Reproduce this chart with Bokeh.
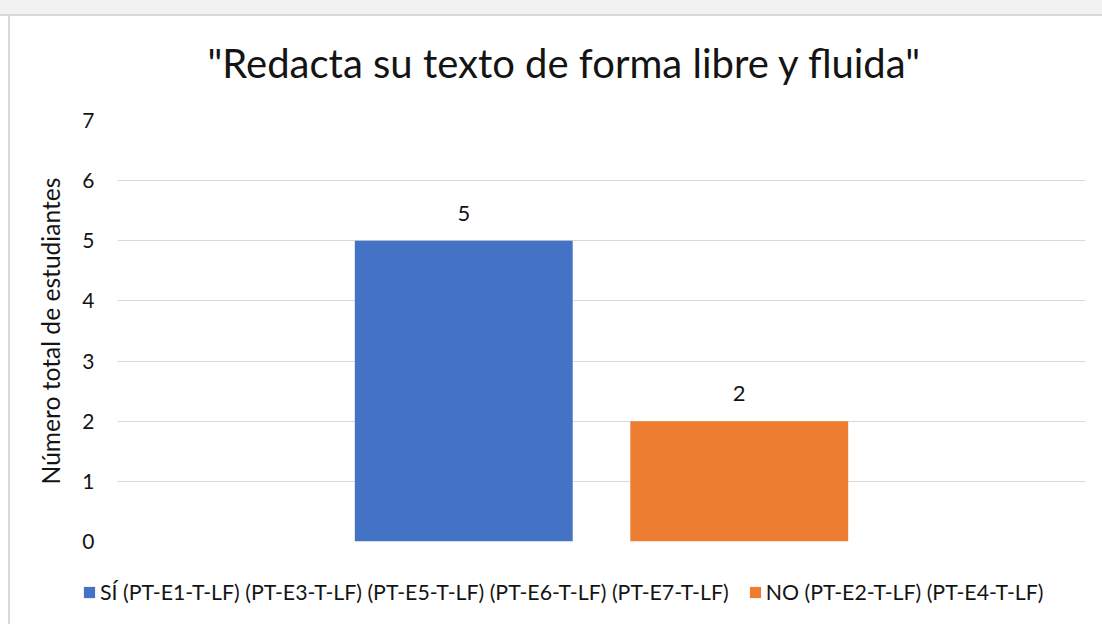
from bokeh.plotting import figure
from bokeh.models import ColumnDataSource, FactorRange, Legend, LegendItem, LabelSet, Range1d, FixedTicker
from bokeh.layouts import column
from bokeh.core.properties import value
from bokeh.embed import file_html
from bokeh.resources import INLINE

title_text = '"Redacta su texto de forma libre y fluida"'
series = ["SÍ (PT-E1-T-LF) (PT-E3-T-LF) (PT-E5-T-LF) (PT-E6-T-LF) (PT-E7-T-LF)",
          "NO (PT-E2-T-LF) (PT-E4-T-LF)"]
values = [5, 2]
colors = ["#4472C4", "#ED7D31"]
y_ticks = [0, 1, 2, 3, 4, 5, 6, 7]
y_label = "Número total de estudiantes"

FONT = "Lato"
TXT = "#141414"
W = 1102

src = ColumnDataSource(dict(x=series, top=values, color=colors,
                            label=[str(v) for v in values]))

top_bg = ("linear-gradient(to right, transparent 8px, #d9d9d9 8px, #d9d9d9 10px, transparent 10px) 0 16px / 100% 100% no-repeat, "
          "linear-gradient(to bottom, #f2f2f2 0px, #f2f2f2 14px, #d9d9d9 14px, #d9d9d9 16px, #ffffff 16px)")
side_bg = "linear-gradient(to right, #ffffff 8px, #d9d9d9 8px, #d9d9d9 10px, #ffffff 10px)"

# ---- main chart ----
p = figure(width=W, height=560,
           x_range=FactorRange(factors=series, range_padding=0.757,
                               range_padding_units="absolute"),
           y_range=Range1d(0, 7),
           output_backend="svg", toolbar_location=None,
           min_border_left=117, min_border_right=17,
           min_border_top=120, min_border_bottom=19,
           styles={"background": top_bg})
p.border_fill_alpha = 0

r = p.vbar(x="x", top="top", width=0.791, color="color", line_color=None, source=src)

p.title.text = title_text
p.title.text_font = FONT
p.title.text_font_size = "40px"
p.title.text_font_style = "normal"
p.title.text_color = TXT
p.title.align = "left"
p.title.offset = 90
p.title.standoff = 67

p.xaxis.visible = False
p.xgrid.visible = False
p.ygrid.grid_line_color = "#d9d9d9"
p.ygrid.grid_line_width = 1
p.outline_line_color = None

ax = p.yaxis[0]
ax.ticker = FixedTicker(ticks=y_ticks)
ax.axis_line_color = None
ax.major_tick_line_color = None
ax.minor_tick_line_color = None
ax.major_label_text_font = FONT
ax.major_label_text_font_size = "21px"
ax.major_label_text_color = TXT
ax.major_label_standoff = 17
ax.axis_label = y_label
ax.axis_label_text_font = FONT
ax.axis_label_text_font_size = "24.6px"
ax.axis_label_text_font_style = "normal"
ax.axis_label_text_color = TXT
ax.axis_label_standoff = 14

labels = LabelSet(x="x", y="top", text="label", source=src,
                  text_align="center", text_baseline="bottom", y_offset=20,
                  text_font=value(FONT), text_font_size="22px", text_color=TXT)
p.add_layout(labels)

# ---- legend strip (same series, bars kept out of its visible range) ----
q = figure(width=W, height=64,
           x_range=FactorRange(factors=series), y_range=Range1d(100, 101),
           x_axis_location=None, y_axis_location=None,
           output_backend="svg", toolbar_location=None,
           min_border_left=0, min_border_right=0, min_border_top=0, min_border_bottom=0,
           styles={"background": side_bg})
q.border_fill_alpha = 0
q.background_fill_alpha = 0
q.grid.visible = False
q.outline_line_color = None
rq = q.vbar(x="x", top="top", width=0.791, color="color", line_color=None, source=src)

legend_x = 0
if "frame_align" in q.properties():
    q.frame_align = False
    p.frame_align = False
    legend_x = 82

legend = Legend(items=[LegendItem(label=series[i], renderers=[rq], index=i) for i in range(len(series))],
                orientation="horizontal", location=(legend_x, 19),
                glyph_width=14, glyph_height=14, label_standoff=4, spacing=19,
                padding=0, margin=0, border_line_color=None, background_fill_alpha=0,
                label_text_font=FONT, label_text_font_size="21.3px", label_text_color=TXT)
q.add_layout(legend, "center")

layout = column(p, q, spacing=0)
open("out.html", "w").write(file_html(layout, INLINE))
